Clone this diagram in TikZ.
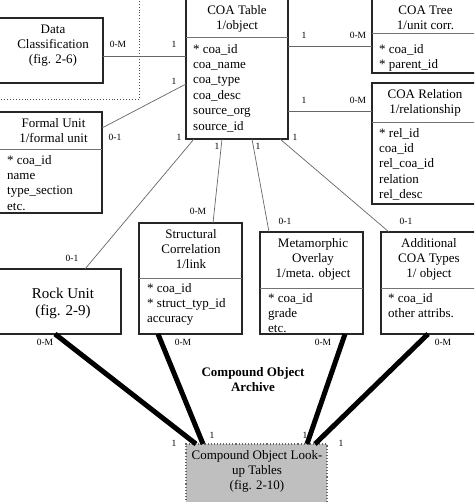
\documentclass[tikz,border=0pt]{standalone}
\usepackage{fontspec}
\setmainfont{Liberation Serif}
\begin{document}
\begin{tikzpicture}[x=1pt,y=-1pt,
 box/.style={draw=black!85,line width=1.1pt,inner sep=0pt,outer sep=0pt,anchor=north west},
 txt/.style={inner sep=0pt,anchor=north,align=center,font=\fontsize{13}{15.4}\selectfont},
 ent/.style={inner sep=0pt,anchor=north west,align=left,font=\fontsize{13}{15.4}\selectfont},
 big/.style={inner sep=0pt,anchor=north,align=center,font=\fontsize{15}{17.2}\selectfont},
 lab/.style={inner sep=0pt,font=\fontsize{9.5}{11}\selectfont},
 thinline/.style={draw=black!60,line width=0.7pt},
 thickline/.style={draw=black,line width=5pt},
 sepline/.style={draw=black!55,line width=0.7pt},
 dotline/.style={draw=black!70,line width=0.9pt,dotted}]
\useasboundingbox (0,0) rectangle (474,502);
\clip (0,0) rectangle (474,502);

% dotted region
\draw[dotline] (139,-2) -- (139,99) -- (-2,99);

% boxes
\node[box,minimum width=108pt,minimum height=65pt] (dc) at (-5,18) {};
\node[box,minimum width=102pt,minimum height=144pt] (coa) at (186,-5) {};
\node[box,minimum width=108pt,minimum height=78pt] (tree) at (372,-5) {};
\node[box,minimum width=108pt,minimum height=121pt] (rel) at (372,83) {};
\node[box,minimum width=104pt,minimum height=101pt] (fu) at (-2,112) {};
\node[box,minimum width=123pt,minimum height=65pt] (rock) at (-2,269) {};
\node[box,minimum width=103pt,minimum height=111pt] (sc) at (139,223) {};
\node[box,minimum width=103pt,minimum height=102pt] (mo) at (260,232) {};
\node[box,minimum width=99pt,minimum height=102pt] (at) at (381,232) {};
\node[box,draw=black!60,dotted,fill=black!25,minimum width=141pt,minimum height=63pt] (lu) at (186,444) {};

% separators
\draw[sepline] (coa.west |- 0,37) -- (coa.east |- 0,37);
\draw[sepline] (tree.west |- 0,33) -- (tree.east |- 0,33);
\draw[sepline] (rel.west |- 0,122) -- (rel.east |- 0,122);
\draw[sepline] (fu.west |- 0,149) -- (fu.east |- 0,149);
\draw[sepline] (sc.west |- 0,278) -- (sc.east |- 0,278);
\draw[sepline] (mo.west |- 0,288) -- (mo.east |- 0,288);
\draw[sepline] (at.west |- 0,288) -- (at.east |- 0,288);

% texts
\node[txt] (dct) at (53,22.2) {\strut Data\\Classification\\(fig. 2-6)};
\node[txt] (coat) at (237,3.2) {\strut COA Table\\1/object};
\node[ent] (coae) at (193,42.2) {\strut * coa\_id\\coa\_name\\coa\_type\\coa\_desc\\source\_org\\source\_id};
\node[txt] (treet) at (425.5,3.2) {\strut COA Tree\\1/unit corr.};
\node[ent] (treee) at (379,42.2) {\strut * coa\_id\\* parent\_id};
\node[txt] (relt) at (425,87.2) {\strut COA Relation\\1/relationship};
\node[ent] (rele) at (379,126.2) {\strut * rel\_id\\coa\_id\\rel\_coa\_id\\relation\\rel\_desc};
\node[txt] (fut) at (53.5,116.2) {\strut Formal Unit\\1/formal unit};
\node[ent] (fue) at (7,153.2) {\strut * coa\_id\\name\\type\_section\\etc.};
\node[big] (rockt) at (63,286) {\strut Rock Unit\\(fig. 2-9)};
\node[txt] (sct) at (191,227.2) {\strut Structural\\Correlation\\1/link};
\node[ent] (sce) at (147,281.2) {\strut * coa\_id\\* struct\_typ\_id\\accuracy};
\node[txt] (mot) at (313,236.2) {\strut Metamorphic\\Overlay\\1/meta. object};
\node[ent] (moe) at (268,291.2) {\strut * coa\_id\\grade\\etc.};
\node[txt] (att) at (429,236.2) {\strut Additional\\COA Types\\1/ object};
\node[ent] (ate) at (388,291.2) {\strut * coa\_id\\other attribs.};
\node[txt] (lut) at (257,448.2) {\strut Compound Object Look-\\up Tables\\(fig. 2-10)};
\node[txt,font=\fontsize{13}{15.4}\selectfont\bfseries] (arch) at (253,365.2) {\strut Compound Object\\Archive};

% thin connectors
\draw[thinline] (dc.east |- 0,56) -- (coa.west |- 0,56);
\draw[thinline] (fu.east |- 0,128) -- (coa.west |- 0,84);
\draw[thinline] (coa.east |- 0,46) -- (tree.west |- 0,46);
\draw[thinline] (coa.east |- 0,111) -- (rel.west |- 0,111);
\draw[thinline] (194,0 |- coa.south) -- (85,0 |- rock.north);
\draw[thinline] (222,0 |- coa.south) -- (213,0 |- sc.north);
\draw[thinline] (252,0 |- coa.south) -- (269,0 |- mo.north);
\draw[thinline] (280,0 |- coa.south) -- (389,0 |- at.north);

% thick connectors
\draw[thickline] (55,0 |- rock.south) -- (196,0 |- lu.north);
\draw[thickline] (158,0 |- sc.south) -- (203,0 |- lu.north);
\draw[thickline] (345,0 |- mo.south) -- (307,0 |- lu.north);
\draw[thickline] (428,0 |- at.south) -- (315,0 |- lu.north);

% cardinality labels
\node[lab] (l1) at (118,44) {0-M};
\node[lab] (l2) at (174,44) {1};
\node[lab] (l3) at (174,81) {1};
\node[lab] (l4) at (115,137) {0-1};
\node[lab] (l5) at (179,137) {1};
\node[lab] (l6) at (72,258) {0-1};
\node[lab] (l7) at (217,146) {1};
\node[lab] (l8) at (198,211) {0-M};
\node[lab] (l9) at (258,146) {1};
\node[lab] (l10) at (285,221) {0-1};
\node[lab] (l11) at (295,137) {1};
\node[lab] (l12) at (406,221) {0-1};
\node[lab] (l13) at (304,35) {1};
\node[lab] (l14) at (358,35) {0-M};
\node[lab] (l15) at (304,100) {1};
\node[lab] (l16) at (358,100) {0-M};
\node[lab] (l17) at (45,342) {0-M};
\node[lab] (l18) at (174,443) {1};
\node[lab] (l19) at (183,342) {0-M};
\node[lab] (l20) at (212,435) {1};
\node[lab] (l21) at (323,342) {0-M};
\node[lab] (l22) at (305,435) {1};
\node[lab] (l23) at (443,342) {0-M};
\node[lab] (l24) at (341,443) {1};
\end{tikzpicture}
\end{document}
